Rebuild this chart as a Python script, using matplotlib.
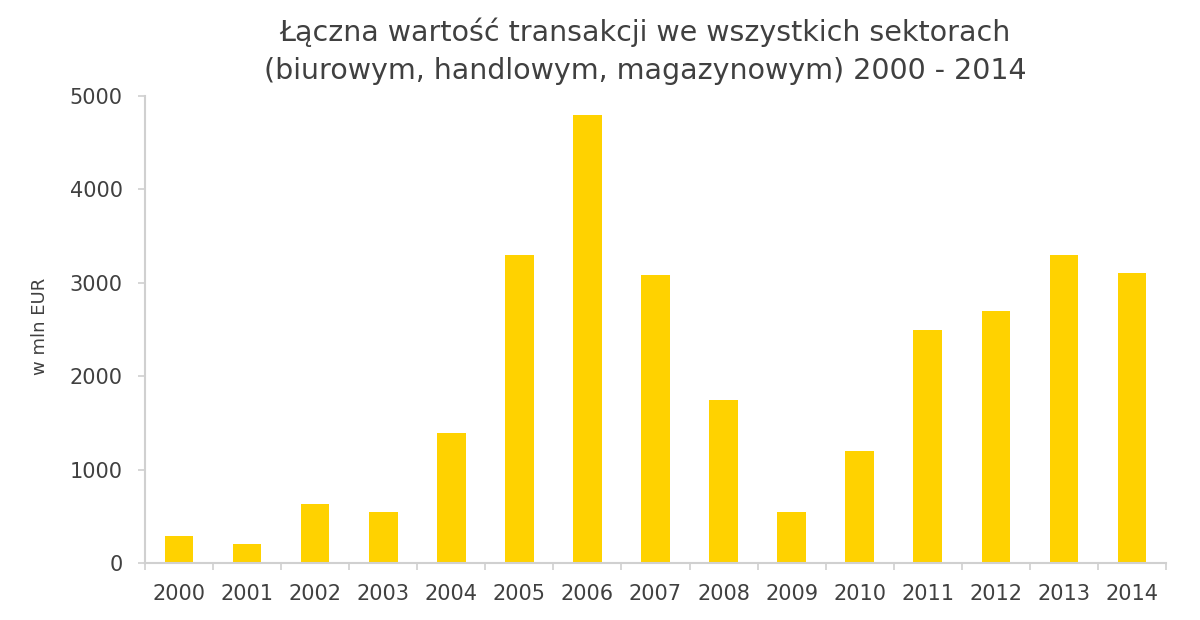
import matplotlib
matplotlib.use("Agg")
import matplotlib.pyplot as plt
import numpy as np

years = ["2000", "2001", "2002", "2003", "2004", "2005", "2006", "2007",
         "2008", "2009", "2010", "2011", "2012", "2013", "2014"]
values = [290, 200, 630, 550, 1390, 3300, 4800, 3080, 1750, 550, 1200, 2500, 2700, 3300, 3100]
yticks = [0, 1000, 2000, 3000, 4000, 5000]

title = "Łączna wartość transakcji we wszystkich sektorach\n(biurowym, handlowym, magazynowym) 2000 - 2014"
ylabel = "w mln EUR"

plt.rcParams['font.family'] = ['DejaVu Sans']
text_color = "#404040"
axis_color = "#d0d0d0"

fig = plt.figure(figsize=(12, 6.2), dpi=100)
ax = fig.add_axes([145/1200, 1 - 563/620, (1166 - 145)/1200, (563 - 96)/620])

x = np.arange(len(years))
ax.bar(x, values, width=0.42, color="#FFD200", zorder=2)

ax.set_xlim(-0.5, len(years) - 0.5)
ax.set_ylim(0, 5000)
ax.set_yticks(yticks)
ax.set_yticklabels([str(v) for v in yticks], fontsize=15, color=text_color)
ax.set_xticks(x)
ax.set_xticklabels(years, fontsize=15, color=text_color)
ax.tick_params(axis='x', length=0, pad=15)
ax.set_xticks(np.arange(-0.5, len(years)), minor=True)
ax.tick_params(axis='x', which='minor', length=5, color=axis_color, width=1.2)
ax.tick_params(axis='y', length=5, color=axis_color, width=1.2, pad=11)

for s in ["top", "right"]:
    ax.spines[s].set_visible(False)
for s in ["left", "bottom"]:
    ax.spines[s].set_color(axis_color)
    ax.spines[s].set_linewidth(1.5)

fig.text(40/1200, 1 - 326/620, ylabel, rotation=90, ha="center", va="center",
         fontsize=13, color=text_color)
fig.text(645/1200, 1 - 51/620, title, ha="center", va="center", fontsize=20.5,
         color=text_color, linespacing=1.45)

fig.savefig("out.png", dpi=100, facecolor="white")
